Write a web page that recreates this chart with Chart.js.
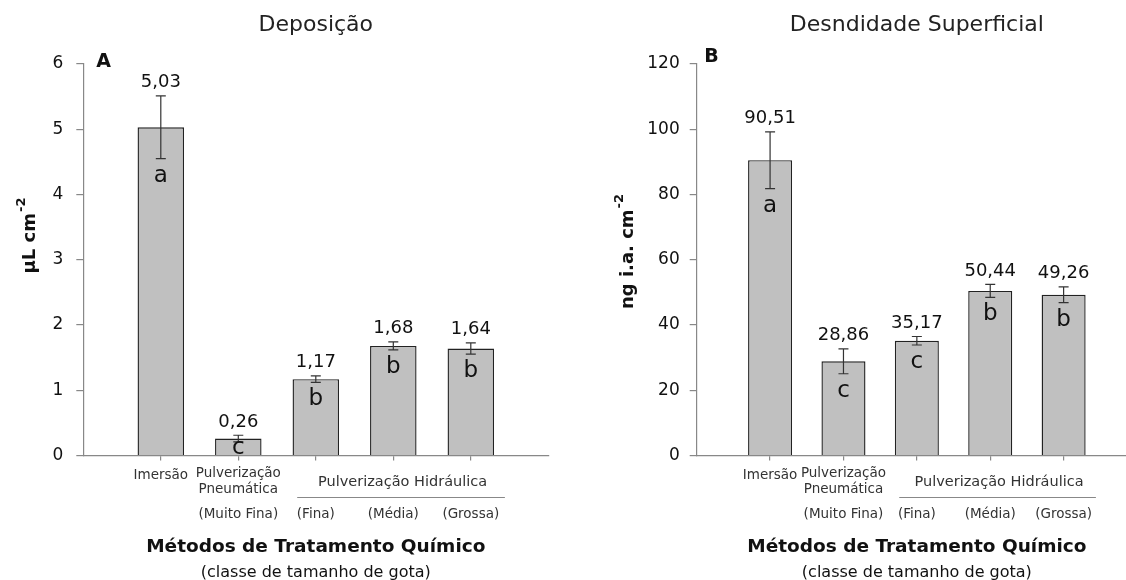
<!DOCTYPE html>
<html lang="pt">
<head>
<meta charset="utf-8">
<title>Deposição e Densidade Superficial</title>
<script src="https://cdn.jsdelivr.net/npm/chart.js@4.4.1/dist/chart.umd.min.js"></script>
<style>
  html, body { margin: 0; padding: 0; background: #fff; }
  #pagina { position: relative; width: 1126px; height: 580px; overflow: hidden; }
  canvas { position: absolute; top: 0; }
  #graficoA { left: 0; }
  #graficoB { left: 563px; }
</style>
</head>
<body>
<div id="pagina">
  <canvas id="graficoA" width="563" height="580"></canvas>
  <canvas id="graficoB" width="590" height="580"></canvas>
</div>
<script>
// Categorias (métodos de tratamento)
const metodos = [['Imersão'], ['Pulverização', 'Pneumática'], [], [], []];
const classesGota = ['', '(Muito Fina)', '(Fina)', '(Média)', '(Grossa)'];
const grupoHidraulica = 'Pulverização Hidráulica'; // categorias 2 a 4

// Painel A - Deposição (µL cm-2)
const deposicao = [5.03, 0.26, 1.17, 1.68, 1.64];
const deposicaoErro = [0.48, 0.05, 0.05, 0.06, 0.085];
const deposicaoLetras = ['a', 'c', 'b', 'b', 'b'];
const deposicaoTicks = [0, 1, 2, 3, 4, 5, 6];

// Painel B - Densidade superficial (ng i.a. cm-2)
const densidade = [90.51, 28.86, 35.17, 50.44, 49.26];
const densidadeErro = [8.7, 3.8, 1.3, 2.0, 2.4];
const densidadeLetras = ['a', 'c', 'c', 'b', 'b'];
const densidadeTicks = [0, 20, 40, 60, 80, 100, 120];

const FONTE = '"DejaVu Sans", "Liberation Sans", Arial, sans-serif';
const formatar = v => v.toFixed(2).replace('.', ',');

// Plugin para barras de erro, rótulos e textos do eixo
const rotulosPlugin = {
    id: 'rotulos',
    afterDatasetsDraw(chart, args, o) {
        const ctx = chart.ctx;
        const x = chart.scales.x, y = chart.scales.y;
        const area = chart.chartArea;
        ctx.save();
        o.valores.forEach((v, i) => {
            const cx = x.getPixelForValue(i);
            const topo = y.getPixelForValue(v + o.erros[i]);
            const base = y.getPixelForValue(v - o.erros[i]);
            // barra de erro
            ctx.strokeStyle = '#333';
            ctx.lineWidth = 1.2;
            ctx.beginPath();
            ctx.moveTo(cx, topo); ctx.lineTo(cx, base);
            ctx.moveTo(cx - 5, topo); ctx.lineTo(cx + 5, topo);
            ctx.moveTo(cx - 5, base); ctx.lineTo(cx + 5, base);
            ctx.stroke();
            // valor
            ctx.fillStyle = '#111';
            ctx.textAlign = 'center';
            ctx.textBaseline = 'alphabetic';
            ctx.font = '18px ' + FONTE;
            ctx.fillText(formatar(v), cx, topo - 8.5);
            // letra
            ctx.font = '23px ' + FONTE;
            ctx.fillText(o.letras[i], cx, Math.min(base + 23, area.bottom - 2));
        });
        ctx.restore();
    },
    afterDraw(chart, args, o) {
        const ctx = chart.ctx;
        const x = chart.scales.x;
        const area = chart.chartArea;
        const meio = (area.left + area.right) / 2;
        ctx.save();
        ctx.fillStyle = '#222';
        ctx.textAlign = 'center';

        // título
        ctx.textBaseline = 'alphabetic';
        ctx.font = '22px ' + FONTE;
        ctx.fillText(o.titulo, meio, 31);

        // letra do painel
        ctx.textAlign = 'left';
        ctx.font = 'bold 19px ' + FONTE;
        ctx.fillStyle = '#111';
        ctx.fillText(o.painel, area.left + o.painelDx, o.painelY);

        // categorias
        ctx.textAlign = 'center';
        ctx.textBaseline = 'middle';
        ctx.fillStyle = '#333';
        ctx.font = '13.5px ' + FONTE;
        metodos.forEach((linhas, i) => {
            const cx = x.getPixelForValue(i);
            if (linhas.length === 1) {
                ctx.fillText(linhas[0], cx, 475);
            } else {
                linhas.forEach((t, k) => ctx.fillText(t, cx, 473 + k * 16.5));
            }
            if (classesGota[i]) ctx.fillText(classesGota[i], cx, 514);
        });

        // grupo Pulverização Hidráulica
        ctx.font = '14.5px ' + FONTE;
        ctx.fillText(grupoHidraulica, x.getPixelForValue(3.12), 482.5);
        ctx.strokeStyle = '#888';
        ctx.lineWidth = 1.2;
        ctx.beginPath();
        ctx.moveTo(x.getPixelForValue(1.76), 497.5);
        ctx.lineTo(x.getPixelForValue(4.44), 497.5);
        ctx.stroke();

        // título do eixo x
        ctx.fillStyle = '#111';
        ctx.textBaseline = 'alphabetic';
        ctx.font = 'bold 18.5px ' + FONTE;
        ctx.fillText('Métodos de Tratamento Químico', meio, 551.5);
        ctx.font = '16px ' + FONTE;
        ctx.fillText('(classe de tamanho de gota)', meio, 577);

        // título do eixo y com expoente
        ctx.translate(o.eixoY.x, o.eixoY.y);
        ctx.rotate(-Math.PI / 2);
        ctx.textAlign = 'left';
        ctx.textBaseline = 'middle';
        ctx.font = 'bold 18px ' + FONTE;
        const w1 = ctx.measureText(o.eixoY.texto).width;
        ctx.font = 'bold 13px ' + FONTE;
        const w2 = ctx.measureText('-2').width;
        const ini = -(w1 + w2) / 2;
        ctx.font = 'bold 18px ' + FONTE;
        ctx.fillText(o.eixoY.texto, ini, 0);
        ctx.font = 'bold 13px ' + FONTE;
        ctx.fillText('-2', ini + w1 + 1, -8);
        ctx.restore();
    }
};

function criarGrafico(id, valores, erros, letras, ticks, cfg) {
    const ctx = document.getElementById(id).getContext('2d');
    return new Chart(ctx, {
        type: 'bar',
        data: {
            datasets: [{
                data: valores.map((v, i) => ({ x: i, y: v })),
                backgroundColor: '#c0c0c0',
                borderColor: '#222',
                borderWidth: 1.4,
                barPercentage: 0.6,
                categoryPercentage: 1
            }]
        },
        options: {
            responsive: false,
            animation: false,
            layout: { padding: { top: 64, right: cfg.direita, bottom: 0, left: 0 } },
            plugins: {
                legend: { display: false },
                tooltip: { enabled: false },
                rotulos: {
                    valores: valores,
                    erros: erros,
                    letras: letras,
                    titulo: cfg.titulo,
                    painel: cfg.painel,
                    painelDx: cfg.painelDx,
                    painelY: cfg.painelY,
                    eixoY: cfg.eixoY
                }
            },
            scales: {
                x: {
                    type: 'linear',
                    min: -1,
                    max: 5,
                    offset: false,
                    ticks: { display: false, stepSize: 1 },
                    afterBuildTicks: s => {
                        s.ticks = s.ticks.filter(t => t.value >= 0 && t.value < valores.length);
                    },
                    grid: { offset: false, drawOnChartArea: false, drawTicks: true, tickLength: 5, color: '#888', lineWidth: 1.2 },
                    border: { color: '#888', width: 1.2 },
                    afterFit: s => { s.height = 124.5; }
                },
                y: {
                    min: ticks[0],
                    max: ticks[ticks.length - 1],
                    ticks: {
                        stepSize: ticks[1] - ticks[0],
                        color: '#111',
                        padding: cfg.tickPad,
                        font: { family: FONTE, size: 17 }
                    },
                    grid: { drawOnChartArea: false, drawTicks: true, tickLength: 7, color: '#888', lineWidth: 1.2 },
                    border: { color: '#888', width: 1.2 },
                    afterFit: s => { s.width = cfg.largEixo; }
                }
            }
        },
        plugins: [rotulosPlugin]
    });
}

criarGrafico('graficoA', deposicao, deposicaoErro, deposicaoLetras, deposicaoTicks, {
    titulo: 'Deposição',
    painel: 'A', painelDx: 13, painelY: 67,
    eixoY: { texto: 'µL cm', x: 30, y: 236 },
    largEixo: 83.3, direita: 14.7, tickPad: 13
});

criarGrafico('graficoB', densidade, densidadeErro, densidadeLetras, densidadeTicks, {
    titulo: 'Desndidade Superficial',
    painel: 'B', painelDx: 7.5, painelY: 61.5,
    eixoY: { texto: 'ng i.a. cm', x: 65, y: 252 },
    largEixo: 133.7, direita: 16, tickPad: 10
});
</script>
</body>
</html>
